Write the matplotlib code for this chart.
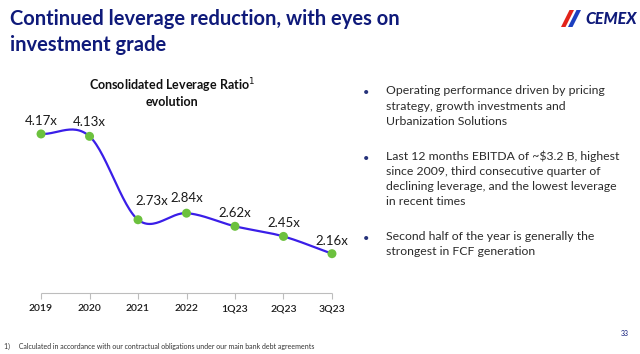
import numpy as np
import matplotlib
matplotlib.use("Agg")
import matplotlib.pyplot as plt
from matplotlib.patches import Polygon

plt.rcParams['font.family'] = ['Lato', 'DejaVu Sans']

# data
periods = ['2019', '2020', '2021', '2022', '1Q23', '2Q23', '3Q23']
leverage = [4.17, 4.13, 2.73, 2.84, 2.62, 2.45, 2.16]
labels = ['4.17x', '4.13x', '2.73x', '2.84x', '2.62x', '2.45x', '2.16x']
bullets = [
    "Operating performance driven by pricing\nstrategy, growth investments and\nUrbanization Solutions",
    "Last 12 months EBITDA of ~$3.2 B, highest\nsince 2009, third consecutive quarter of\ndeclining leverage, and the lowest leverage\nin recent times",
    "Second half of the year is generally the\nstrongest in FCF generation",
]

NAVY = '#0f1a7a'
LINE = '#3a1ee8'
GREEN = '#6cc13e'


def catmull_rom(x, y, n=30):
    # smooth line through the points, like the office "smoothed line"
    x = np.asarray(x, float)
    y = np.asarray(y, float)
    px = np.concatenate([[2 * x[0] - x[1]], x, [2 * x[-1] - x[-2]]])
    py = np.concatenate([[2 * y[0] - y[1]], y, [2 * y[-1] - y[-2]]])
    xs, ys = [], []
    t = np.linspace(0, 1, n)
    for i in range(1, len(px) - 2):
        for p, out in ((px, xs), (py, ys)):
            p0, p1, p2, p3 = p[i - 1], p[i], p[i + 1], p[i + 2]
            out.extend(0.5 * ((2 * p1) + (-p0 + p2) * t
                              + (2 * p0 - 5 * p1 + 4 * p2 - p3) * t ** 2
                              + (-p0 + 3 * p1 - 3 * p2 + p3) * t ** 3))
    return np.array(xs), np.array(ys)


fig = plt.figure(figsize=(6.4, 3.54), dpi=100)
W, H = 640, 354

ax = fig.add_axes([26.5 / W, 1 - 293 / H, 320 / W, (293 - 114.3) / H])
xi = np.arange(len(periods))
sx, sy = catmull_rom(xi, leverage)
ax.plot(sx, sy, color=LINE, lw=1.6, zorder=2)
ax.scatter(xi, leverage, s=42, color=GREEN, zorder=3, edgecolors='none')

# label offsets in points (centre of text relative to the point)
offsets = [(0, 9), (0, 10), (10, 13.5), (0, 11), (0, 9.5), (0, 9.5), (0, 9)]
for x, y, lab, (dx, dy) in zip(xi, leverage, labels, offsets):
    ax.annotate(lab, (x, y), xytext=(dx, dy), textcoords='offset points',
                ha='center', va='center', fontsize=9.5, color='#1a1a1a')

ax.set_xlim(-0.3, 6.3)
ax.set_ylim(1.5, 4.5)
for s in ax.spines.values():
    s.set_visible(False)
ax.hlines(1.5, 0, 6, color='#bdbdbd', lw=0.8, clip_on=False)
ax.set_yticks([])
ax.set_xticks(xi)
ax.set_xticklabels(periods, fontsize=7.5, color='#1a1a1a', fontweight='semibold')
ax.tick_params(axis='x', length=4, color='#bdbdbd', width=0.8, pad=4)

fig.text(172 / W, 1 - 92 / H, "Consolidated Leverage Ratio$^{1}$\nevolution",
         ha='center', va='center', fontsize=9, fontweight='bold',
         color='#111111', linespacing=1.15)

# slide title
fig.text(10 / W, 1 - 9 / H, "Continued leverage reduction, with eyes on\ninvestment grade",
         ha='left', va='top', fontsize=14.5, fontweight='bold', color=NAVY,
         linespacing=1.35)

# logo
def slash(x0, color):
    pts = [(x0, 27), (x0 + 4.5, 27), (x0 + 13, 10), (x0 + 8.5, 10)]
    fig.patches.append(Polygon([(px / W, 1 - py / H) for px, py in pts],
                               closed=True, transform=fig.transFigure,
                               facecolor=color, edgecolor='none'))
slash(561, '#e2231a')
slash(568, '#1c3fbf')
fig.text(637 / W, 1 - 19 / H, "CEMEX", ha='right', va='center', fontsize=11.5,
         fontweight='black', fontstyle='italic', color=NAVY)

# bullets
ys = [93, 158, 238]
for y, txt in zip(ys, bullets):
    fig.text(363 / W, 1 - y / H, "•", ha='left', va='center', fontsize=8,
             color='#26337a')
    fig.text(386 / W, 1 - (y - 7.5) / H, txt, ha='left', va='top', fontsize=8.8,
             color='#2b2b2b', linespacing=1.45)

# footnote
fig.text(4 / W, 1 - 346 / H,
         "1)     Calculated in accordance with our contractual obligations under our main bank debt agreements",
         ha='left', va='center', fontsize=5, color='#333333')
fig.text(625 / W, 1 - 334 / H, "33", ha='center', va='center', fontsize=5, color=NAVY)

fig.savefig('out.png', dpi=100)
